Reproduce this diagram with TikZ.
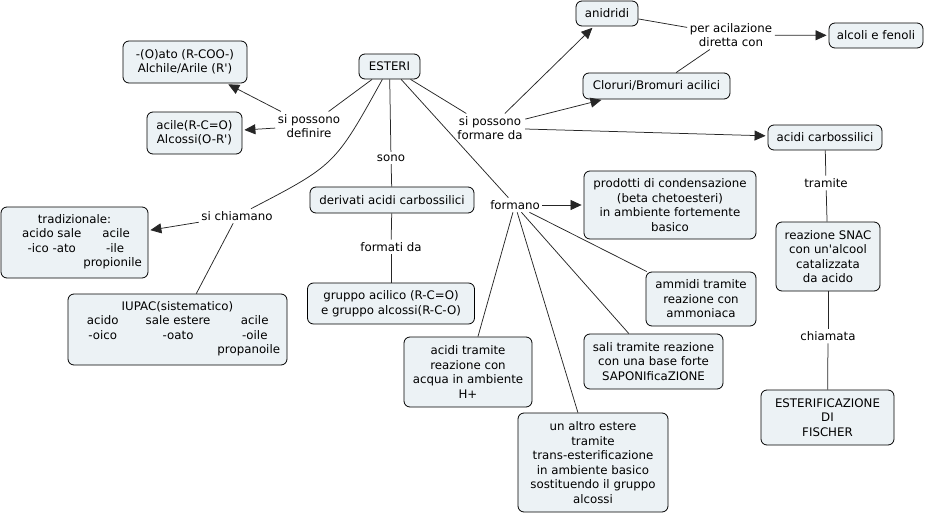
\documentclass[tikz,border=0pt]{standalone}
\usepackage{fontspec}
\newfontfamily\dvs{DejaVu Sans}
\usetikzlibrary{arrows.meta}
\definecolor{boxfill}{RGB}{236,242,245}
\begin{document}
\begin{tikzpicture}[x=1pt,y=-1pt,
  every node/.style={font=\dvs\fontsize{11.8}{14.5}\selectfont, align=center, inner sep=1pt},
  cbox/.style={draw=black, fill=boxfill, rounded corners=6pt, line width=0.8pt, inner sep=0pt},
  lbl/.style={inner sep=2.5pt},
  conn/.style={draw=black!85, line width=0.75pt},
  arr/.style={conn, -{Triangle[length=11pt,width=10pt]}, shorten >=2pt}]
\useasboundingbox (0,0) rectangle (927,514);

% boxes
\node[cbox, minimum width=61pt, minimum height=25pt] (esteri) at (389.5,66.5) {ESTERI};
\node[cbox, minimum width=124pt, minimum height=42pt] (ato) at (185,62) {-(O)ato (R-COO-)\\Alchile/Arile (R')};
\node[cbox, minimum width=95pt, minimum height=42pt] (acile) at (194.5,133) {acile(R-C=O)\\Alcossi(O-R')};
\node[cbox, minimum width=164pt, minimum height=26pt] (deriv) at (392,200) {derivati acidi carbossilici};
\node[cbox, minimum width=167pt, minimum height=41pt] (gruppo) at (391,303.5) {gruppo acilico (R-C=O)\\e gruppo alcossi(R-C-O)};
\node[cbox, minimum width=147pt, minimum height=71pt] (trad) at (74.5,242.5) {tradizionale:\\\hspace*{15pt}\begin{tabular}[t]{@{}c@{\hspace{2pt}}c@{}}acido sale & \hspace*{7pt}acile\\ -ico -ato & \hspace*{5pt}-ile\\ & propionile\end{tabular}};
\node[cbox, minimum width=219pt, minimum height=71pt] (iupac) at (177.5,329.5) {IUPAC(sistematico)\\\hspace*{12pt}\begin{tabular}[t]{@{}c@{\hspace{27pt}}c@{\hspace{7pt}}c@{}}acido & sale estere & \hspace*{12pt}acile\\ -oico & -oato & \hspace*{12pt}-oile\\ & & propanoile\end{tabular}};
\node[cbox, minimum width=172pt, minimum height=68pt] (prod) at (670,205) {prodotti di condensazione\\(beta chetoesteri)\\in ambiente fortemente\\basico};
\node[cbox, minimum width=110pt, minimum height=54pt] (ammidi) at (701,299) {ammidi tramite\\reazione con\\ammoniaca};
\node[cbox, minimum width=139pt, minimum height=55pt] (sali) at (653.5,361.5) {sali tramite reazione\\con una base forte\\SAPONIficaZIONE};
\node[cbox, minimum width=128pt, minimum height=70pt] (acidi) at (468,372) {acidi tramite\\reazione con\\acqua in ambiente\\H+};
\node[cbox, minimum width=150pt, minimum height=99pt] (altro) at (593,462.5) {un altro estere\\tramite\\trans-esterificazione\\in ambiente basico\\sostituendo il gruppo\\alcossi};
\node[cbox, minimum width=62pt, minimum height=25pt] (anid) at (607,13.5) {anidridi};
\node[cbox, minimum width=147pt, minimum height=26pt] (clor) at (656.5,86) {Cloruri/Bromuri acilici};
\node[cbox, minimum width=114pt, minimum height=25pt] (carb) at (825,137.5) {acidi carbossilici};
\node[cbox, minimum width=94pt, minimum height=25pt] (alcoli) at (876,35.5) {alcoli e fenoli};
\node[cbox, minimum width=104pt, minimum height=69pt] (snac) at (828,256.5) {reazione SNAC\\con un'alcool\\catalizzata\\da acido};
\node[cbox, minimum width=133pt, minimum height=55pt] (fischer) at (827.5,417.5) {ESTERIFICAZIONE\\DI\\FISCHER};

% labels
\node[lbl] (ldef) at (309,126) {si possono\\definire};
\node[lbl] (lsono) at (391,158) {sono};
\node[lbl] (lform) at (391,247) {formati da};
\node[lbl] (lchiam) at (237,216) {si chiamano};
\node[lbl] (lformano) at (515,205) {formano};
\node[lbl] (lformare) at (490,128) {si possono\\formare da};
\node[lbl] (lacil) at (731,35) {per acilazione\\diretta con};
\node[lbl] (ltram) at (826,183) {tramite};
\node[lbl] (lchiamata) at (828,336) {chiamata};

% connectors
\draw[conn] (esteri) -- (ldef);
\draw[arr] (ldef) -- (ato);
\draw[arr] (ldef) -- (acile);
\draw[conn] (esteri) .. controls (335,165) .. (lchiam);
\draw[arr] (lchiam) -- (trad);
\draw[conn] (lchiam) -- (iupac);
\draw[conn] (esteri) -- (lsono);
\draw[conn] (lsono) -- (deriv);
\draw[conn] (deriv) -- (lform);
\draw[conn] (lform) -- (gruppo);
\draw[conn] (esteri) -- (lformare);
\draw[arr] (lformare) -- (anid);
\draw[arr] (lformare) -- (clor);
\draw[arr] (lformare) -- (carb);
\draw[conn] (esteri) -- (lformano);
\draw[arr] (lformano) -- (prod);
\draw[conn] (lformano) -- (ammidi);
\draw[conn] (lformano) -- (sali);
\draw[conn] (lformano) -- (altro);
\draw[conn] (lformano) -- (acidi);
\draw[conn] (anid) -- (lacil);
\draw[conn] (clor) -- (lacil);
\draw[arr] (lacil) -- (alcoli);
\draw[conn] (carb) -- (ltram);
\draw[conn] (ltram) -- (snac);
\draw[conn] (snac) -- (lchiamata);
\draw[conn] (lchiamata) -- (fischer);
\end{tikzpicture}
\end{document}
